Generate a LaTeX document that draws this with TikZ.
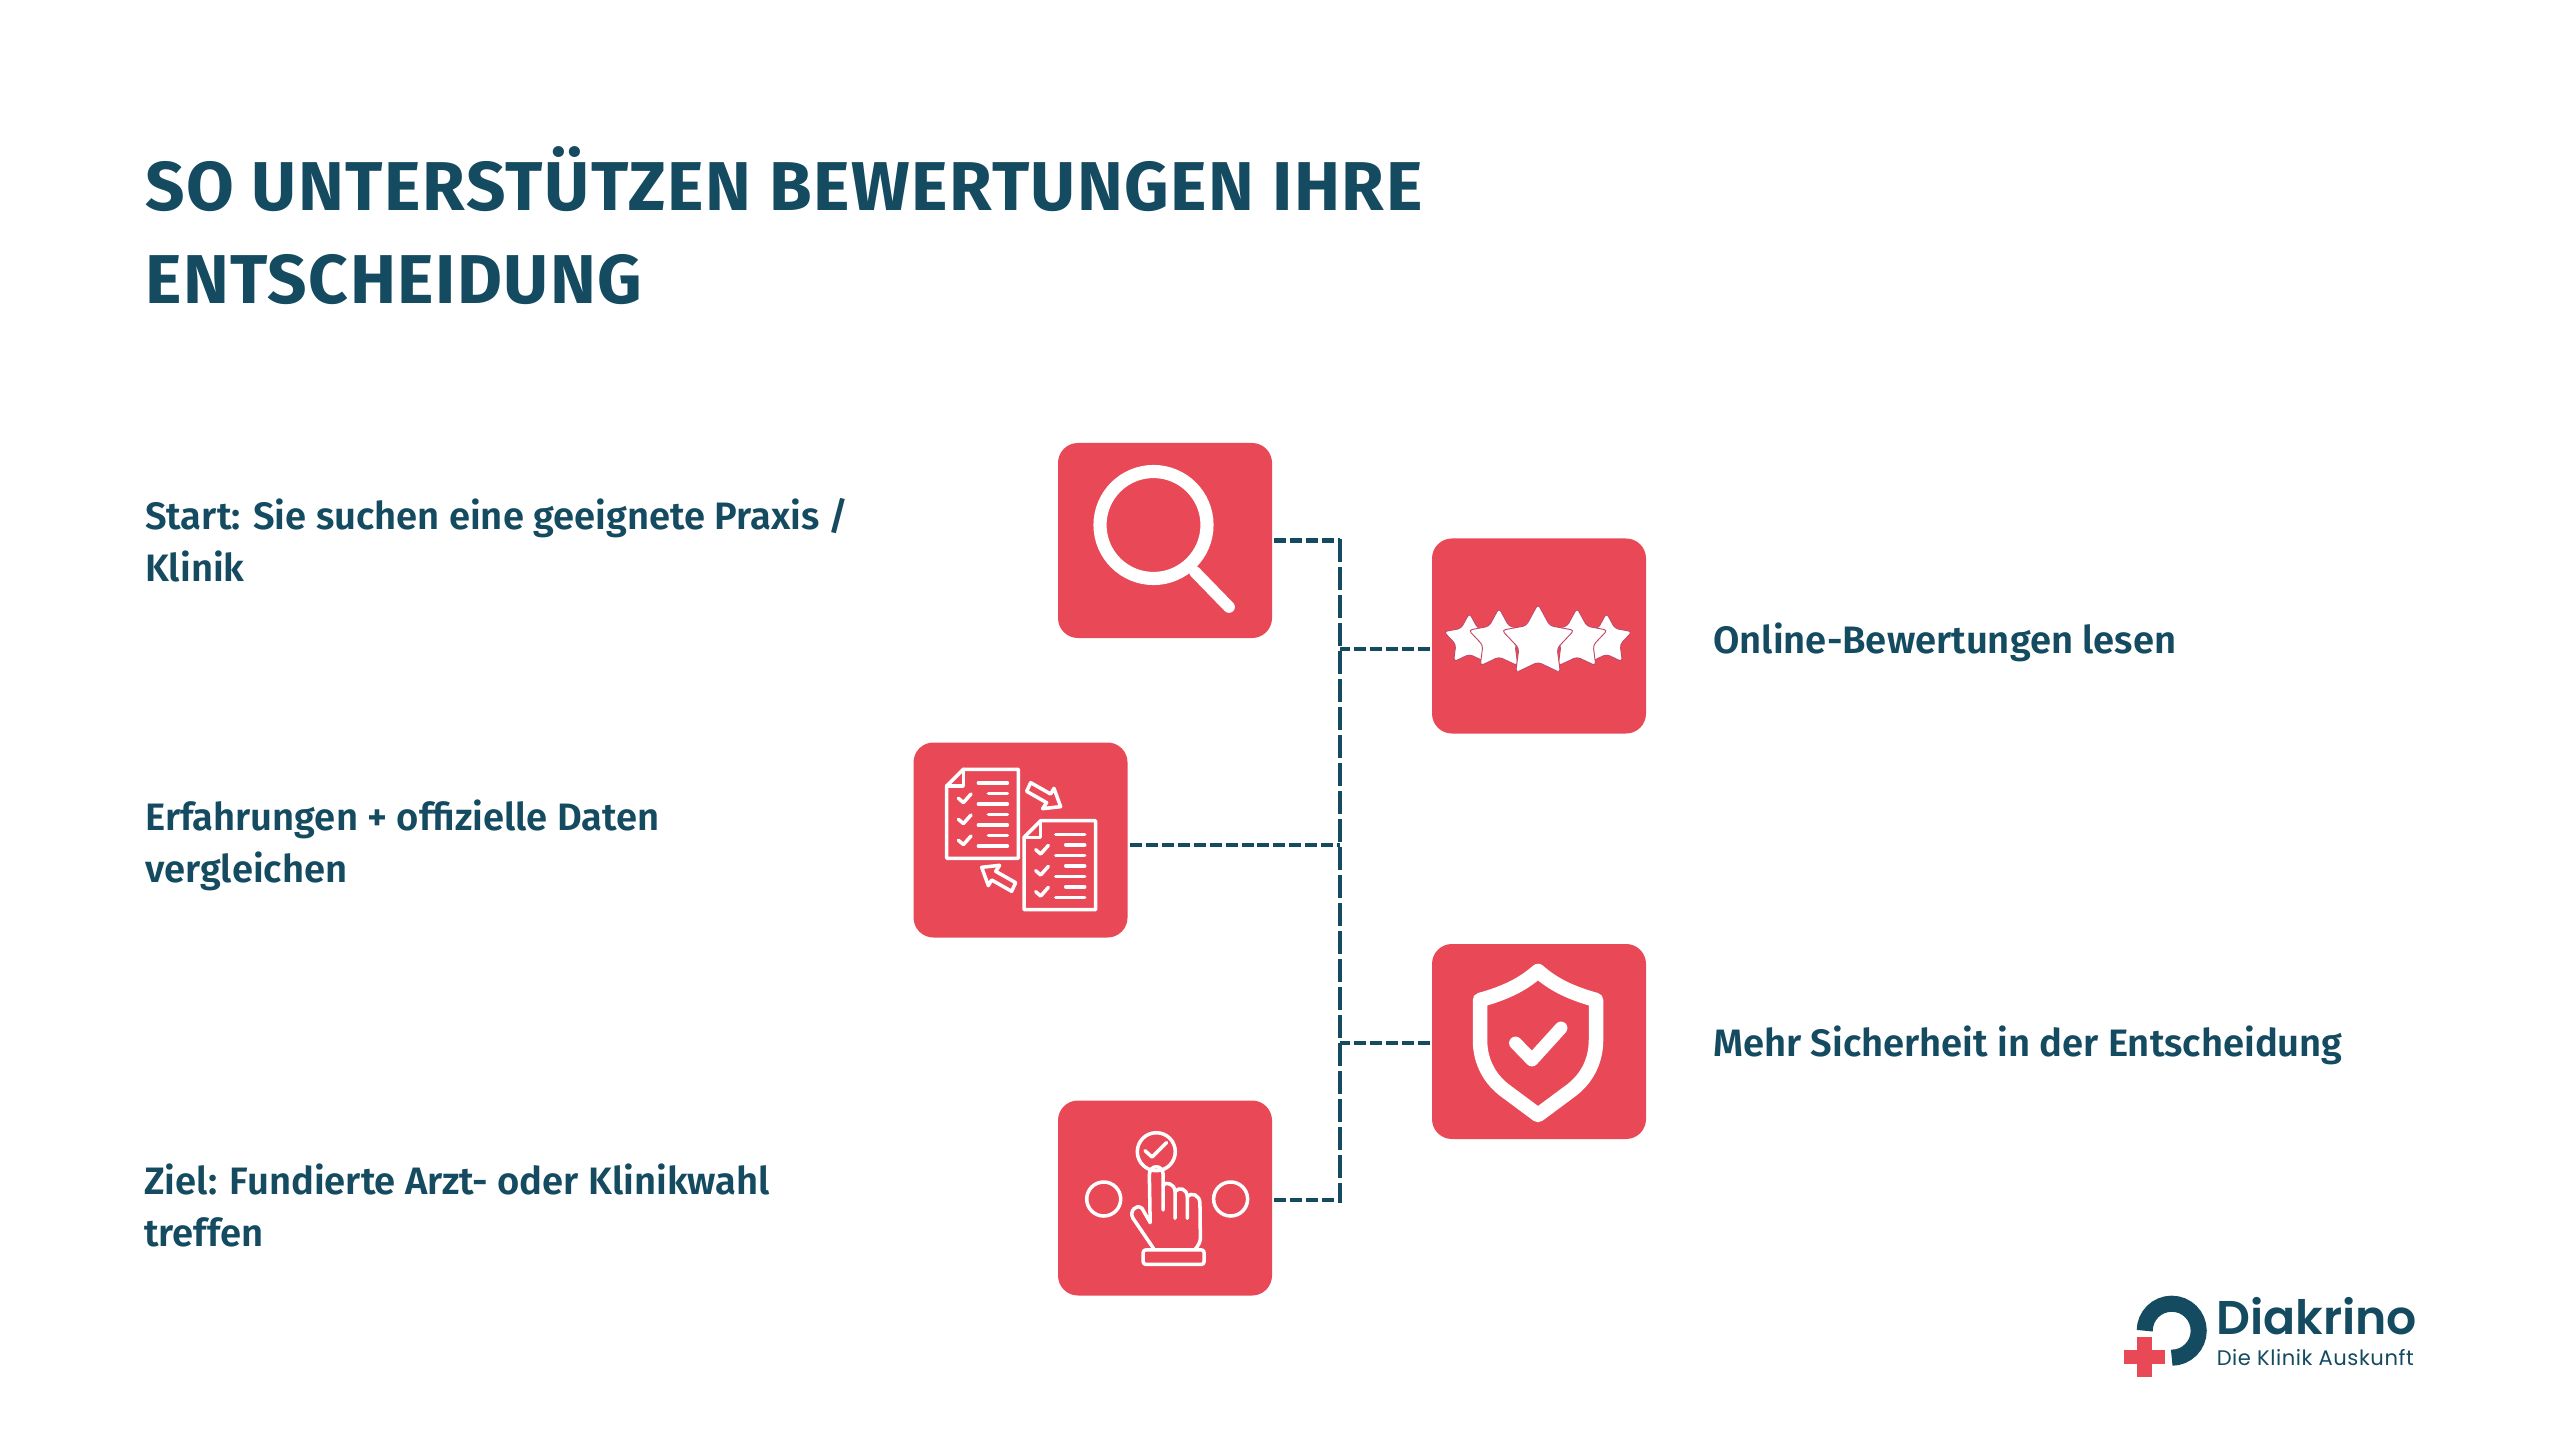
\documentclass[tikz,border=0pt]{standalone}
\usepackage{fontspec}
\setmainfont[BoldFont={Fira Sans SemiBold}]{Fira Sans}
\newfontfamily\titlefamily[LetterSpace=2.2]{Fira Sans Bold}
\newfontfamily\logoboldfamily{Poppins SemiBold}
\newfontfamily\logotagfamily[LetterSpace=2.6]{Poppins}
\definecolor{boxred}{RGB}{233,73,87}
\definecolor{deepteal}{RGB}{20,75,96}
\definecolor{starline}{RGB}{196,72,100}
\newcommand{\titlefont}{\fontsize{59pt}{79.4pt}\selectfont\titlefamily}
\newcommand{\bodyfont}{\fontsize{32.6pt}{44.4pt}\selectfont\bfseries}
\tikzset{
	iconbox/.style={fill=boxred,rounded corners=17pt,inner sep=0pt,minimum width=6.42cm,minimum height=5.85cm},
	glyph/.style={draw=white,line width=3pt,line cap=round,line join=round},
	fatglyph/.style={glyph,line width=11pt},
	heading/.style={anchor=north west,align=left,inner sep=0pt,text=deepteal,font=\titlefont},
	caption/.style={anchor=west,align=left,inner sep=0pt,text=deepteal,font=\bodyfont},
	hlink/.style={draw=deepteal,line width=3.8pt,dash pattern=on 10.2pt off 3.4pt},
	vlink/.style={draw=deepteal,line width=3.8pt,dash pattern=on 20pt off 3.9pt},
}
% one sheet of the comparison icon, its corner at (#1,#2)
\newcommand{\checksheet}[2]{
	\begin{scope}[shift={(#1,#2)}]
		\draw[glyph] (16.6,0) -- (71.6,0) -- (71.6,89) -- (0,89) -- (0,16.6) -- cycle;
		\draw[glyph] (16.6,0) -- (16.6,16.6) -- (0,16.6);
		\foreach \y/\s in {13.7/31.7,24.2/41.7,34.7/31.7,45.2/41.7,55.7/31.7,66.2/41.7,76.7/31.7}
			\draw[glyph] (\s,\y) -- (60.7,\y);
		\foreach \y in {29,50,71}
			\draw[glyph] (11.7,\y) -- (16.7,\y+4.3) -- (24.3,\y-4.3);
	\end{scope}
}
% one star of the rating icon
\newcommand{\ratestar}[3]{
	\filldraw[fill=white,draw=starline,line width=0.8pt,rounded corners=3pt,shift={(#1,#2)},scale=#3]
		(-90:1) -- (-54:.53) -- (-18:1) -- (18:.53) -- (54:1) -- (90:.53) -- (126:1) -- (162:.53) -- (198:1) -- (234:.53) -- cycle;
}
\begin{document}
\begin{tikzpicture}[x=0.03cm,y=-0.03cm]
	\useasboundingbox (0,0) rectangle (2560,1440);
	\fill[white] (0,0) rectangle (2560,1440);

	\node[heading] (title) at (145,146) {SO UNTERSTÜTZEN BEWERTUNGEN IHRE\\ENTSCHEIDUNG};

	\node[caption] (startlabel) at (145,540) {Start: Sie suchen eine geeignete Praxis /\\Klinik};
	\node[caption] (comparelabel) at (145,845) {Erfahrungen + offizielle Daten\\vergleichen};
	\node[caption] (goallabel) at (144,1205) {Ziel: Fundierte Arzt- oder Klinikwahl\\treffen};
	\node[caption] (readlabel) at (1713,642.5) {Online-Bewertungen lesen};
	\node[caption] (surelabel) at (1713,1045) {Mehr Sicherheit in der Entscheidung};

	\node[iconbox] (search) at (1165,540.5) {};
	\node[iconbox] (stars) at (1539,636) {};
	\node[iconbox] (compare) at (1020.5,840) {};
	\node[iconbox] (shield) at (1539,1041.5) {};
	\node[iconbox] (choice) at (1165,1198) {};

	% connectors
	\coordinate (trunktop) at (1340,539);
	\coordinate (trunkbottom) at (1340,1203);
	\coordinate (starsport) at (1430,649);
	\coordinate (compareport) at (1130,845);
	\coordinate (shieldport) at (1430,1043);
	\coordinate (choiceport) at (1274,1200);
	\draw[vlink] (trunktop) -- (trunkbottom);
	\draw[hlink] (search.east) ++(2,0) -- (trunktop |- search.east);
	\draw[hlink] (starsport) -- (trunktop |- starsport);
	\draw[hlink] (compareport) -- (trunktop |- compareport);
	\draw[hlink] (shieldport) -- (trunktop |- shieldport);
	\draw[hlink] (choiceport) -- (trunktop |- choiceport);

	% magnifier
	\draw[white,line width=11.2pt] (1153.5,525) circle (53.5);
	\draw[fatglyph,line width=10pt] (1195,572) -- (1229,607);

	% rating
	\ratestar{1469.4}{640}{27}
	\ratestar{1606.5}{640}{27}
	\ratestar{1499}{640}{32}
	\ratestar{1577}{640}{32}
	\ratestar{1538}{642}{38}

	% comparison
	\checksheet{946.7}{769.3}
	\checksheet{1024}{820.7}
	\begin{scope}[shift={(900,730)},scale=0.3333]
		\draw[glyph] (392,158) -- (452,192) -- (462,175) -- (482,230) -- (428,236) -- (440,218) -- (380,184) -- cycle;
		\draw[glyph] (335,484) -- (275,450) -- (265,467) -- (245,412) -- (299,406) -- (287,424) -- (347,458) -- cycle;
	\end{scope}

	% shield
	\draw[glyph,line width=12.4pt,line cap=butt] (1538,971) .. controls (1522,985) and (1505,993) .. (1480,1000) -- (1480,1040)
		.. controls (1480,1062) and (1490,1080) .. (1507,1092) -- (1538,1115) -- (1569,1092)
		.. controls (1586,1080) and (1596,1062) .. (1596,1040) -- (1596,1000) .. controls (1571,993) and (1554,985) .. (1538,971) -- cycle;
	\draw[fatglyph] (1515.5,1043) -- (1532,1060) -- (1561,1028);

	% hand and buttons
	\draw[glyph] (1156.3,1151.7) circle (19);
	\draw[glyph] (1103.7,1199) circle (17);
	\draw[glyph] (1230.6,1199) circle (17);
	\draw[glyph] (1145,1150.7) -- (1152,1157) -- (1166.5,1142.7);
	\begin{scope}[shift={(1040,940)},xscale=0.408,yscale=0.3333]
		\draw[glyph] (278,925) -- (228,835) .. controls (218,815) and (235,790) .. (250,805) -- (270,848) -- (268,705)
			.. controls (268,672) and (302,672) .. (302,705) -- (302,810);
		\draw[glyph] (302,735) .. controls (308,725) and (330,730) .. (331,755) -- (331,835);
		\draw[glyph] (331,755) .. controls (340,740) and (360,745) .. (361,770) -- (361,835);
		\draw[glyph] (361,770) .. controls (370,755) and (392,765) .. (392,790) -- (393,895) .. controls (393,905) and (388,918) .. (380,928);
		\draw[glyph,rounded corners=2pt] (253,930) rectangle (402,973);
	\end{scope}

	% logo
	\draw[deepteal,line width=13.7pt] (2144.7,1330.7) arc[start angle=180,end angle=450,radius=27];
	\fill[boxred] (2137.3,1336.7) rectangle (2152.3,1377.3);
	\fill[boxred] (2124,1350) rectangle (2165.3,1364.3);
	\node[anchor=base west,inner sep=0pt,text=deepteal,font=\fontsize{40.4pt}{42pt}\selectfont\logoboldfamily] (brand) at (2216,1334) {Diakrino};
	\node[anchor=base west,inner sep=0pt,text=deepteal,font=\fontsize{18pt}{21pt}\selectfont\logotagfamily] (tagline) at (2216.5,1365) {Die Klinik Auskunft};
\end{tikzpicture}
\end{document}
